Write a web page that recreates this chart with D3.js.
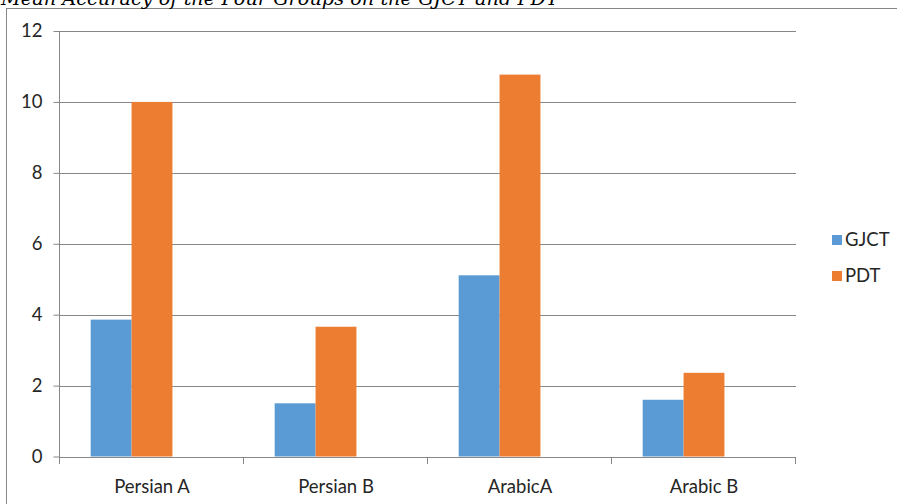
<!DOCTYPE html>
<html>
<head>
<meta charset="utf-8">
<script src="https://cdn.jsdelivr.net/npm/d3@7"></script>
<style>
  html, body { margin: 0; padding: 0; background: #fff; }
  svg { display: block; }
</style>
</head>
<body>
<svg id="chart" width="897" height="504"></svg>
<script>
const titleText = "Mean Accuracy of the Four Groups on the GJCT and PDT";
const categories = ["Persian A", "Persian B", "ArabicA", "Arabic B"];
const seriesNames = ["GJCT", "PDT"];
const gjctValues = [3.86, 1.50, 5.11, 1.60];
const pdtValues = [10.0, 3.66, 10.77, 2.36];
const yTicks = [0, 2, 4, 6, 8, 10, 12];
const colors = ["#5B9BD5", "#ED7D31"];
// the source chart reserves a third (empty) series slot in each category
const slotNames = ["GJCT", "PDT", "(empty)"];

const seriesValues = [gjctValues, pdtValues];

const svg = d3.select("#chart");
const W = 897, H = 504;
const plot = { left: 60, right: 796, top: 31, bottom: 456.5 };
const font = "Lato, 'Open Sans', sans-serif";
const textColor = "#262626";
const lineColor = "#878787";

// outer chart border
svg.append("rect")
  .attr("x", 6.5).attr("y", 8.5)
  .attr("width", W + 10).attr("height", H + 10)
  .attr("fill", "none").attr("stroke", lineColor).attr("stroke-width", 1);

// title (clipped at top)
const title = svg.append("text")
  .attr("x", 1).attr("y", 5)
  .attr("font-family", "'DejaVu Serif', 'Liberation Serif', serif")
  .attr("font-style", "italic")
  .attr("font-size", 24)
  .attr("fill", "#000")
  .text(titleText);
const targetW = 558;
const curW = title.node().getComputedTextLength();
title.attr("font-size", 24 * targetW / curW);

const x0 = d3.scaleBand().domain(categories).range([plot.left, plot.right]).padding(0);
const x1 = d3.scaleBand().domain(slotNames).range([0, x0.bandwidth()])
  .paddingInner(0).paddingOuter(0.75);
const y = d3.scaleLinear().domain([0, 12]).range([plot.bottom, plot.top]);

// gridlines
svg.append("g").selectAll("line").data(yTicks.filter(t => t > 0)).join("line")
  .attr("x1", plot.left).attr("x2", plot.right)
  .attr("y1", d => Math.round(y(d)) + 0.5).attr("y2", d => Math.round(y(d)) + 0.5)
  .attr("stroke", lineColor).attr("stroke-width", 1);

// bars
const rows = categories.map((c, i) => ({ cat: c, vals: seriesNames.map((s, j) => ({ s, j, v: seriesValues[j][i] })) }));
svg.append("g").selectAll("g").data(rows).join("g")
  .attr("transform", d => `translate(${x0(d.cat)},0)`)
  .selectAll("rect").data(d => d.vals).join("rect")
  .attr("x", d => x1(d.s))
  .attr("width", x1.bandwidth())
  .attr("y", d => y(d.v))
  .attr("height", d => y(0) - y(d.v))
  .attr("fill", d => colors[d.j]);

// y axis
const yAxis = svg.append("g")
  .attr("transform", `translate(${plot.left - 0.5},0)`)
  .call(d3.axisLeft(y).tickValues(yTicks).tickSize(6).tickPadding(11).tickFormat(d3.format("d")));
yAxis.select(".domain").attr("stroke", lineColor).attr("d", `M0,${plot.top}V${Math.round(plot.bottom) + 0.5}`);
yAxis.selectAll(".tick line").attr("stroke", lineColor);
yAxis.selectAll(".tick text").attr("font-family", font).attr("font-size", 18.5).attr("fill", textColor);

// x axis
const xAxis = svg.append("g")
  .attr("transform", `translate(0,${Math.round(plot.bottom) + 0.5})`)
  .call(d3.axisBottom(x0).tickSize(0).tickPadding(22));
xAxis.select(".domain").attr("stroke", lineColor).attr("d", `M${plot.left},0H${plot.right}`);
xAxis.selectAll(".tick text").attr("font-family", font).attr("font-size", 18.5).attr("fill", textColor);
// category boundary ticks
const bounds = categories.map(c => x0(c)).concat([plot.right]);
svg.append("g").selectAll("line").data(bounds).join("line")
  .attr("x1", d => Math.round(d) - 0.5).attr("x2", d => Math.round(d) - 0.5)
  .attr("y1", Math.round(plot.bottom)).attr("y2", Math.round(plot.bottom) + 7)
  .attr("stroke", lineColor);

// legend
const legend = svg.append("g").selectAll("g").data(seriesNames).join("g")
  .attr("transform", (d, i) => `translate(832,${235 + i * 36})`);
legend.append("rect").attr("width", 10).attr("height", 10).attr("fill", (d, i) => colors[i]);
legend.append("text").attr("x", 13).attr("y", 11)
  .attr("font-family", font).attr("font-size", 18.5).attr("fill", textColor)
  .text(d => d);
</script>
</body>
</html>
